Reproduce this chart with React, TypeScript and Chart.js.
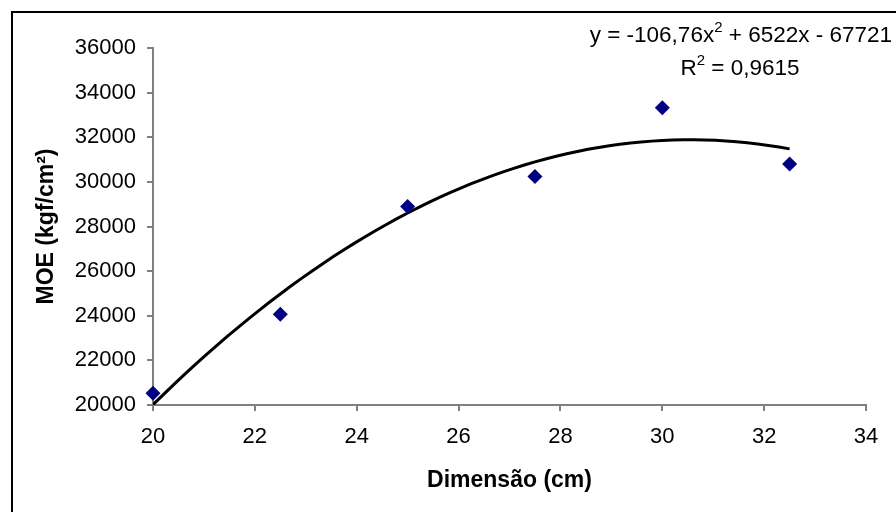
import React, { useEffect, useRef } from "react";
import { Chart, registerables } from "chart.js";

Chart.register(...registerables);

// Measured MOE per specimen dimension
const dimensions = [20, 22.5, 25, 27.5, 30, 32.5];
const moeValues = [20530, 24070, 28900, 30240, 33320, 30800];

// Second-order polynomial trendline coefficients (y = a·x² + b·x + c)
const trendA = -106.76;
const trendB = 6522;
const trendC = -67721;
const trendR2 = "0,9615";

const xTicks = [20, 22, 24, 26, 28, 30, 32, 34];
const yTicks = [20000, 22000, 24000, 26000, 28000, 30000, 32000, 34000, 36000];

const FONT = "'Liberation Sans', Arial, sans-serif";

export default function App() {
  const canvasRef = useRef<HTMLCanvasElement | null>(null);

  useEffect(() => {
    const canvas = canvasRef.current;
    if (!canvas) return;

    // Trendline sampled across the measured range
    const trendPoints: { x: number; y: number }[] = [];
    const first = dimensions[0];
    const last = dimensions[dimensions.length - 1];
    const steps = 60;
    for (let i = 0; i <= steps; i++) {
      const x = first + ((last - first) * i) / steps;
      trendPoints.push({ x, y: trendA * x * x + trendB * x + trendC });
    }

    const framePlugin = {
      id: "frameAndEquation",
      beforeDraw(chart: any) {
        const ctx = chart.ctx;
        ctx.save();
        ctx.fillStyle = "#ffffff";
        ctx.fillRect(0, 0, chart.width, chart.height);
        ctx.strokeStyle = "#000000";
        ctx.lineWidth = 2;
        ctx.beginPath();
        ctx.moveTo(12, chart.height + 5);
        ctx.lineTo(12, 12);
        ctx.lineTo(chart.width + 5, 12);
        ctx.stroke();
        ctx.restore();
      },
      afterDraw(chart: any) {
        const ctx = chart.ctx;
        ctx.save();
        ctx.fillStyle = "#000000";
        ctx.textBaseline = "alphabetic";
        const big = `22.5px ${FONT}`;
        const sup = `15px ${FONT}`;
        const drawRuns = (runs: [string, boolean][], startX: number, base: number) => {
          let x = startX;
          for (const [t, s] of runs) {
            ctx.font = s ? sup : big;
            ctx.fillText(t, x, s ? base - 10 : base);
            x += ctx.measureText(t).width;
          }
        };
        const widthOf = (runs: [string, boolean][]) => {
          let total = 0;
          for (const [t, s] of runs) {
            ctx.font = s ? sup : big;
            total += ctx.measureText(t).width;
          }
          return total;
        };
        // Equation line, right-aligned
        const eq: [string, boolean][] = [
          ["y = " + String(trendA).replace(".", ",") + "x", false],
          ["2", true],
          [" + " + trendB + "x - " + Math.abs(trendC), false],
        ];
        drawRuns(eq, 892 - widthOf(eq), 42);
        // R² line, centered
        const r: [string, boolean][] = [
          ["R", false],
          ["2", true],
          [" = " + trendR2, false],
        ];
        drawRuns(r, 740 - widthOf(r) / 2, 75);
        ctx.restore();
      },
    };

    const chart = new Chart(canvas, {
      type: "scatter",
      data: {
        datasets: [
          {
            label: "Trendline",
            data: trendPoints,
            showLine: true,
            borderColor: "#000000",
            borderWidth: 3,
            pointRadius: 0,
            tension: 0,
            order: 2,
          },
          {
            label: "MOE",
            data: dimensions.map((d, i) => ({ x: d, y: moeValues[i] })),
            pointStyle: "rectRot",
            pointRadius: 7.5,
            backgroundColor: "#000080",
            borderColor: "#000080",
            borderWidth: 0,
            clip: false,
            order: 1,
          },
        ],
      },
      options: {
        animation: false,
        responsive: false,
        devicePixelRatio: 1,
        layout: { padding: { left: 0, right: 30, top: 48, bottom: 0 } },
        plugins: {
          legend: { display: false },
          tooltip: { enabled: false },
        },
        scales: {
          x: {
            type: "linear",
            min: xTicks[0],
            max: xTicks[xTicks.length - 1],
            afterBuildTicks: (scale: any) => {
              scale.ticks = xTicks.map((v) => ({ value: v }));
            },
            afterFit: (scale: any) => {
              scale.height = 107;
            },
            grid: {
              drawOnChartArea: false,
              drawTicks: true,
              tickLength: 6,
              tickColor: "#808080",
              lineWidth: 2,
            },
            border: { color: "#808080", width: 2 },
            ticks: {
              color: "#000000",
              font: { family: FONT, size: 22 },
              padding: 13,
              maxRotation: 0,
            },
            title: {
              display: true,
              text: "Dimensão (cm)",
              color: "#000000",
              font: { family: FONT, size: 23, weight: "bold" },
              padding: { top: 0, bottom: 18 },
            },
          },
          y: {
            type: "linear",
            min: yTicks[0],
            max: yTicks[yTicks.length - 1],
            afterBuildTicks: (scale: any) => {
              scale.ticks = yTicks.map((v) => ({ value: v }));
            },
            afterFit: (scale: any) => {
              scale.width = 153;
            },
            grid: {
              drawOnChartArea: false,
              drawTicks: true,
              tickLength: 6,
              tickColor: "#808080",
              lineWidth: 2,
            },
            border: { color: "#808080", width: 2 },
            ticks: {
              color: "#000000",
              font: { family: FONT, size: 22 },
              padding: 11,
              callback: (v: any) => String(v),
            },
            title: {
              display: true,
              text: "MOE (kgf/cm²)",
              color: "#000000",
              font: { family: FONT, size: 23, weight: "bold" },
              padding: { top: 33, bottom: 0 },
            },
          },
        },
      },
      plugins: [framePlugin],
    });

    return () => chart.destroy();
  }, []);

  return (
    <div style={{ position: "fixed", left: 0, top: 0, width: 896, height: 512, background: "#fff" }}>
      <canvas ref={canvasRef} width={896} height={512} />
    </div>
  );
}
